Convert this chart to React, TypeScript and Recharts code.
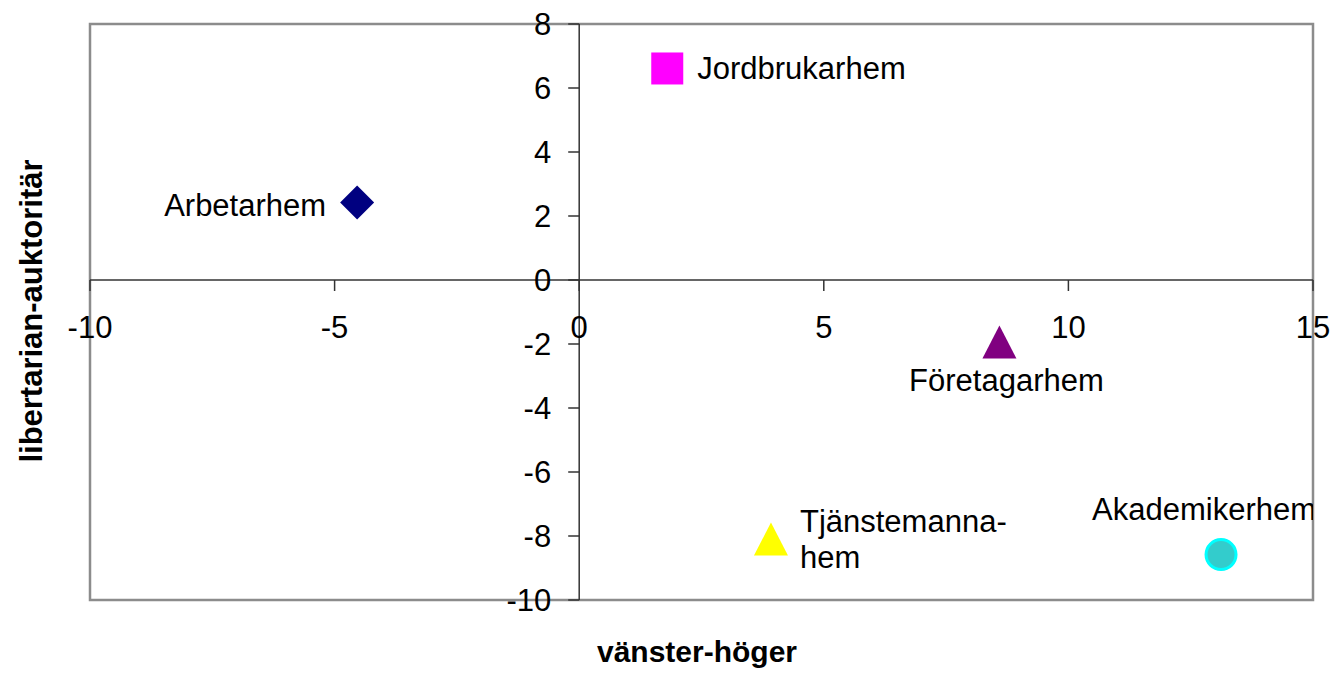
import {
  ReferenceArea,
  ReferenceDot,
  ReferenceLine,
  Scatter,
  ScatterChart,
  XAxis,
  YAxis,
} from 'recharts';

const groups = ['Arbetarhem', 'Jordbrukarhem', 'Företagarhem', 'Tjänstemannahem', 'Akademikerhem'];
const leftRight = [-4.54, 1.8, 8.59, 3.92, 13.12];
const libAuth = [2.42, 6.61, -1.95, -8.11, -8.58];
const labelLines = [
  ['Arbetarhem'],
  ['Jordbrukarhem'],
  ['Företagarhem'],
  ['Tjänstemanna-', 'hem'],
  ['Akademikerhem'],
];

const xTicks = [-10, -5, 0, 5, 10, 15];
const yTicks = [-10, -8, -6, -4, -2, 0, 2, 4, 6, 8];

const FONT = '"Liberation Sans", Arial, sans-serif';

type MarkerStyle = {
  kind: 'diamond' | 'square' | 'triangle' | 'circle';
  fill: string;
  stroke?: string;
  anchor: 'start' | 'middle' | 'end';
  dx: number;
  dy: number;
};

// look of each group's marker and where its label sits
const markerStyles: Record<string, MarkerStyle> = {
  Arbetarhem: { kind: 'diamond', fill: '#000080', anchor: 'end', dx: -31, dy: 13 },
  Jordbrukarhem: { kind: 'square', fill: '#FF00FF', anchor: 'start', dx: 30, dy: 11 },
  Företagarhem: { kind: 'triangle', fill: '#800080', anchor: 'middle', dx: 7, dy: 49 },
  Tjänstemannahem: { kind: 'triangle', fill: '#FFFF00', anchor: 'start', dx: 29, dy: -8 },
  Akademikerhem: { kind: 'circle', fill: '#33CCCC', stroke: '#00FFFF', anchor: 'middle', dx: -17, dy: -35 },
};

const data = groups.map((name, i) => ({
  name,
  x: leftRight[i],
  y: libAuth[i],
  lines: labelLines[i],
}));

function Marker(props: any) {
  const { cx, cy, payload } = props;
  const s = markerStyles[payload.name];
  let mark;
  if (s.kind === 'diamond') {
    mark = (
      <polygon
        points={`${cx},${cy - 17} ${cx + 17},${cy} ${cx},${cy + 17} ${cx - 17},${cy}`}
        fill={s.fill}
      />
    );
  } else if (s.kind === 'square') {
    mark = <rect x={cx - 16} y={cy - 16} width={32} height={32} fill={s.fill} />;
  } else if (s.kind === 'triangle') {
    mark = (
      <polygon
        points={`${cx},${cy - 17} ${cx + 17},${cy + 16} ${cx - 17},${cy + 16}`}
        fill={s.fill}
      />
    );
  } else {
    mark = <circle cx={cx} cy={cy} r={15} fill={s.fill} stroke={s.stroke} strokeWidth={3} />;
  }
  return (
    <g>
      {mark}
      <text
        x={cx + s.dx}
        y={cy + s.dy}
        textAnchor={s.anchor}
        fontSize={31}
        fontFamily={FONT}
        fill="#000"
      >
        {payload.lines.map((line: string, k: number) => (
          <tspan key={k} x={cx + s.dx} dy={k === 0 ? 0 : 36}>
            {line}
          </tspan>
        ))}
      </text>
    </g>
  );
}

function XTick(props: any) {
  const { cx, cy, label } = props;
  return (
    <g>
      <line x1={cx} y1={cy} x2={cx} y2={cy + 11} stroke="#333" strokeWidth={1.5} />
      <text x={cx} y={cy + 58} textAnchor="middle" fontSize={31} fontFamily={FONT} fill="#000">
        {label}
      </text>
    </g>
  );
}

function YTick(props: any) {
  const { cx, cy, label } = props;
  return (
    <g>
      <line x1={cx - 11} y1={cy} x2={cx} y2={cy} stroke="#333" strokeWidth={1.5} />
      <text x={cx - 28} y={cy + 11} textAnchor="end" fontSize={31} fontFamily={FONT} fill="#000">
        {label}
      </text>
    </g>
  );
}

export default function App() {
  return (
    <div style={{ position: 'absolute', left: 0, top: 0, width: 1342, height: 675, background: '#fff' }}>
      <ScatterChart width={1342} height={675} margin={{ top: 24, right: 29, bottom: 75, left: 90 }}>
        <XAxis type="number" dataKey="x" domain={[-10, 15]} allowDataOverflow hide />
        <YAxis type="number" dataKey="y" domain={[-10, 8]} allowDataOverflow hide />
        <ReferenceLine x={0} stroke="#333" strokeWidth={1.5} />
        <ReferenceLine y={0} stroke="#333" strokeWidth={1.5} />
        <ReferenceArea
          x1={-10}
          x2={15}
          y1={-10}
          y2={8}
          fill="none"
          fillOpacity={0}
          stroke="#8c8c8c"
          strokeWidth={2.5}
        />
        {xTicks.map((t) => (
          <ReferenceDot
            key={`x${t}`}
            x={t}
            y={0}
            r={0}
            ifOverflow="visible"
            shape={(p: any) => <XTick {...p} label={String(t)} />}
          />
        ))}
        {yTicks.map((t) => (
          <ReferenceDot
            key={`y${t}`}
            x={0}
            y={t}
            r={0}
            ifOverflow="visible"
            shape={(p: any) => <YTick {...p} label={String(t)} />}
          />
        ))}
        <Scatter data={data} shape={Marker} isAnimationActive={false} />
      </ScatterChart>
      <svg
        width={1342}
        height={675}
        style={{ position: 'absolute', left: 0, top: 0, pointerEvents: 'none' }}
      >
        <text
          x={697}
          y={662}
          textAnchor="middle"
          fontSize={30}
          fontWeight="bold"
          fontFamily={FONT}
          fill="#000"
        >
          vänster-höger
        </text>
        <text
          transform="translate(42,311) rotate(-90)"
          textAnchor="middle"
          fontSize={31}
          fontWeight="bold"
          fontFamily={FONT}
          fill="#000"
        >
          libertarian-auktoritär
        </text>
      </svg>
    </div>
  );
}
